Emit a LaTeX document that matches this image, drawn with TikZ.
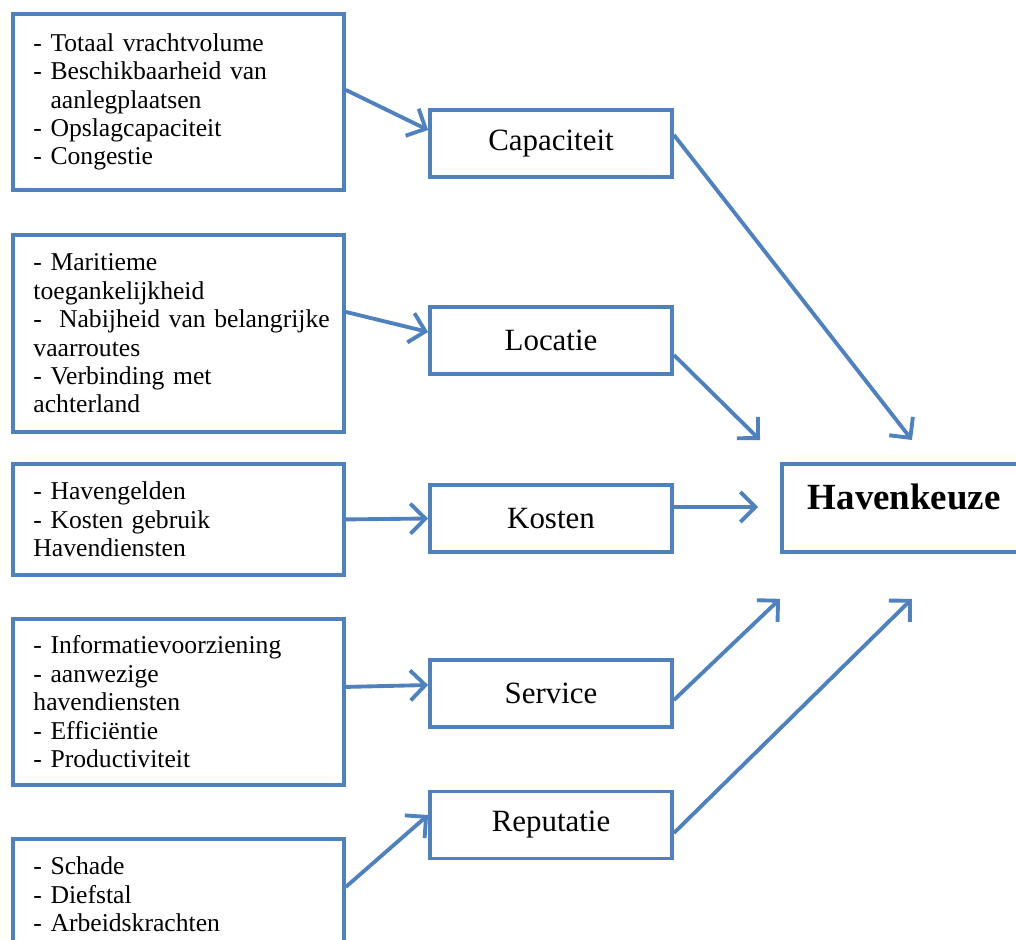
\documentclass[tikz,border=0pt]{standalone}
\usepackage{fontspec}
\setmainfont{Liberation Serif}
\usepackage{tikz}
\usetikzlibrary{arrows.meta, positioning}

\definecolor{boxblue}{RGB}{79,129,189}
\hyphenpenalty=10000
\exhyphenpenalty=10000

\begin{document}
\begin{tikzpicture}[
    x=0.02cm, y=-0.02cm,
    % left column: lists of sub-factors
    listbox/.style={
        rectangle, draw=boxblue, line width=2.2pt,
        anchor=north west, minimum width=6.62cm,
        text width=5.8cm, inner xsep=0.41cm, inner ysep=0pt,
        align=left, font=\fontsize{14.6}{16.2}\selectfont
    },
    % middle column: main factors
    factorbox/.style={
        rectangle, draw=boxblue, line width=2.2pt,
        minimum width=4.84cm, minimum height=1.34cm,
        align=center, font=\fontsize{17.6}{20}\selectfont
    },
    % result
    resultbox/.style={
        rectangle, draw=boxblue, line width=2.2pt,
        anchor=north west, text width=4.5cm, inner xsep=0.52cm,
        inner ysep=0pt, text height=0.92cm, text depth=0.84cm,
        align=left, font=\fontsize{21}{24}\selectfont\bfseries
    },
    arrow/.style={-{Straight Barb[length=3mm, width=6mm]}, boxblue, line width=2.2pt},
]
\useasboundingbox (0,0) rectangle (1016,939);

% sub-factor lists
\node[listbox, minimum height=3.52cm] (caplist) at (11,12)
    {- Totaal vrachtvolume\\- Beschikbaarheid van\\\phantom{- }aanlegplaatsen\\- Opslagcapaciteit\\- Congestie};
\node[listbox, minimum height=3.94cm] (loclist) at (11,233)
    {- Maritieme\\toegankelijkheid\\\mbox{-\ \ Nabijheid van belangrijke}\\vaarroutes\\- Verbinding met\\achterland};
\node[listbox, minimum height=2.22cm] (costlist) at (11,462)
    {- Havengelden\\- Kosten gebruik\\Havendiensten};
\node[listbox, minimum height=3.32cm] (servlist) at (11,617)
    {- Informatievoorziening\\- aanwezige\\havendiensten\\- Effici\"entie\\- Productiviteit};
\node[listbox, minimum height=2.22cm] (replist) at (11,837)
    {- Schade\\- Diefstal\\- Arbeidskrachten};

% main factors
\node[factorbox] (capaciteit) at (551,143.5) {Capaciteit};
\node[factorbox] (locatie) at (551,340.5) {Locatie};
\node[factorbox] (kosten) at (551,518.5) {Kosten};
\node[factorbox] (service) at (551,693.5) {Service};
\node[factorbox] (reputatie) at (551,825) {Reputatie};

% result
\node[resultbox] (havenkeuze) at (780,462) {Havenkeuze};

% free arrow ends round the result box
\coordinate (in-loc) at ([xshift=-0.4cm, yshift=0.44cm]havenkeuze.north west);
\coordinate (in-cap) at ([xshift=2.64cm, yshift=0.44cm]havenkeuze.north west);
\coordinate (in-kos) at ([xshift=-0.44cm]havenkeuze.west);
\coordinate (in-ser) at ([yshift=-0.9cm]havenkeuze.south west);
\coordinate (in-rep) at ([xshift=2.64cm, yshift=-0.9cm]havenkeuze.south west);

% lists to factors
\draw[arrow] ([yshift=0.24cm]caplist.east) -- ([yshift=0.27cm]capaciteit.west);
\draw[arrow] ([yshift=0.43cm]loclist.east) -- ([yshift=0.17cm]locatie.west);
\draw[arrow] (costlist.east) -- (kosten.west);
\draw[arrow] ([yshift=0.3cm]servlist.east) -- ([yshift=0.17cm]service.west);
\draw[arrow] ([yshift=0.15cm]replist.east) -- ([yshift=0.2cm]reputatie.west);

% factors to result
\draw[arrow] ([yshift=0.17cm]capaciteit.east) -- (in-cap);
\draw[arrow] ([yshift=-0.29cm]locatie.east) -- (in-loc);
\draw[arrow] ([yshift=0.23cm]kosten.east) -- ([yshift=0.23cm]kosten.east -| in-kos);
\draw[arrow] ([yshift=-0.13cm]service.east) -- (in-ser);
\draw[arrow] ([yshift=-0.16cm]reputatie.east) -- (in-rep);

\end{tikzpicture}
\end{document}
